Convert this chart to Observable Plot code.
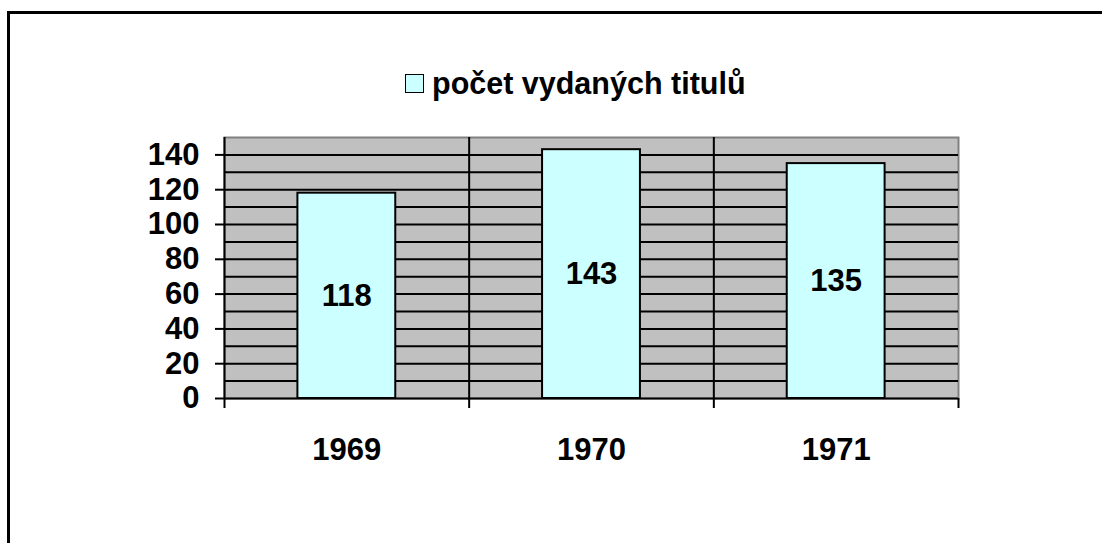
<!DOCTYPE html>
<html><head><meta charset="utf-8">
<script src="https://cdn.jsdelivr.net/npm/d3@7"></script>
<script src="https://cdn.jsdelivr.net/npm/@observablehq/plot@0.6"></script>
<style>
body{margin:0;background:#fff;width:1102px;height:543px;overflow:hidden;position:relative;font-family:"Liberation Sans",Arial,sans-serif;}
#frame{position:absolute;left:7px;top:11px;width:1200px;height:700px;border-left:3px solid #000;border-top:3px solid #000;box-sizing:border-box;}
#legend{position:absolute;left:405px;top:66px;display:flex;align-items:center;font-weight:bold;font-size:30.5px;white-space:nowrap;color:#000;}
#legend .sw{width:17px;height:17px;background:#ccffff;border:1.5px solid #000;margin-right:8px;}
#chart{position:absolute;left:0;top:0;}
</style>
</head>
<body>
<div id="frame"></div>
<div id="chart"></div>
<div id="legend"><div class="sw"></div><span>počet vydaných titulů</span></div>
<script>
const years = ["1969", "1970", "1971"];
const counts = [118, 143, 135];
const yTicks = [0, 20, 40, 60, 80, 100, 120, 140];
const yGrid = [10, 20, 30, 40, 50, 60, 70, 80, 90, 100, 110, 120, 130, 140];
const categoryEdges = [0, 1, 2, 3];
const innerEdges = [1, 2];

const data = years.map((year, i) => ({year, i, count: counts[i]}));
const FONT = '"Liberation Sans", Arial, sans-serif';

const chart = Plot.plot({
  width: 1102,
  height: 543,
  marginLeft: 224,
  marginRight: 144,
  marginTop: 137,
  marginBottom: 145,
  style: {background: "transparent", fontFamily: FONT, fontWeight: "bold", color: "#000", overflow: "visible"},
  x: {type: "linear", domain: [0, 3], label: null},
  y: {domain: [0, 150], label: null},
  marks: [
    Plot.frame({fill: "#c0c0c0", stroke: "#808080", strokeWidth: 2}),
    Plot.gridY(yGrid, {stroke: "#000", strokeOpacity: 1, strokeWidth: 2}),
    Plot.ruleX(innerEdges, {stroke: "#000", strokeWidth: 2}),
    Plot.rectY(data, {x1: d => d.i + 0.3, x2: d => d.i + 0.7, y1: 0, y2: "count", fill: "#ccffff", stroke: "#000", strokeWidth: 2}),
    Plot.text(data, {x: d => d.i + 0.5, y: d => d.count / 2, text: d => String(d.count), fontSize: 31, fontWeight: "bold", fill: "#000"}),
    Plot.ruleX([0], {stroke: "#000", strokeWidth: 2}),
    Plot.ruleY([0], {stroke: "#000", strokeWidth: 2}),
    Plot.axisY(yTicks, {tickSize: 9, tickPadding: 16, stroke: "#000", strokeWidth: 2, fontSize: 31, fontWeight: "bold", label: null}),
    Plot.axisX(categoryEdges, {tickSize: 10, stroke: "#000", strokeWidth: 2, tickFormat: () => "", label: null}),
    Plot.axisX(categoryEdges.slice(0, 3).map(e => e + 0.5), {tickSize: 0, tickPadding: 39, fontSize: 31, fontWeight: "bold", tickFormat: d => years[Math.floor(d)], label: null})
  ]
});
document.getElementById("chart").appendChild(chart);
</script>
</body></html>
